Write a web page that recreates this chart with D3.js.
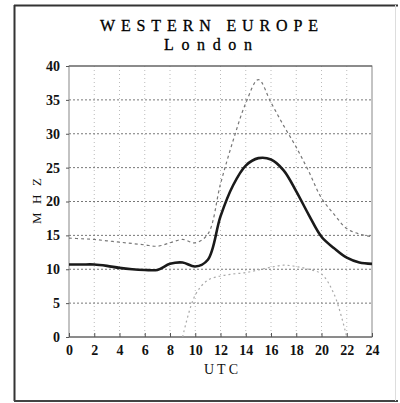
<!DOCTYPE html>
<html><head><meta charset="utf-8">
<script src="https://cdn.jsdelivr.net/npm/d3@7"></script>
<style>body{margin:0;background:#fff}svg{display:block}</style>
</head><body>
<script>
const titleText = "WESTERN EUROPE";
const subtitleText = "London";
const xLabel = "UTC";
const yLabel = "MHZ";
const hours = [0,1,2,3,4,5,6,7,8,9,10,11,12,13,14,15,16,17,18,19,20,21,22,23,24];
const mufMedian = [10.7,10.7,10.7,10.5,10.2,10.0,9.9,9.9,10.8,11.0,10.4,11.4,17.8,22.4,25.3,26.4,26.2,24.6,21.5,18.0,14.8,13.1,11.7,11.0,10.8];
const mufUpper = [14.6,14.5,14.4,14.2,14.0,13.8,13.6,13.4,13.9,14.4,13.9,15.2,22.6,29.0,34.5,38.0,34.6,31.2,28.0,24.4,20.5,18.1,16.0,15.2,14.8];
const mufLower = [null,null,null,null,null,null,null,null,null,0,6.2,8.4,9.0,9.3,9.5,9.9,10.3,10.6,10.4,10.0,9.3,6.3,0,null,null];
const xTicks = [0,2,4,6,8,10,12,14,16,18,20,22,24];
const yTicks = [0,5,10,15,20,25,30,35,40];

const W = 400, H = 403;
const svg = d3.select("body").append("svg").attr("width", W).attr("height", H);
const x = d3.scaleLinear().domain([0,24]).range([69,372]);
const y = d3.scaleLinear().domain([0,40]).range([337,66]);

// outer frame
svg.append("line").attr("x1",14.5).attr("x2",14.5).attr("y1",5).attr("y2",401).attr("stroke","#333").attr("stroke-width",2);
svg.append("line").attr("x1",14).attr("x2",398).attr("y1",5.5).attr("y2",5.5).attr("stroke","#333").attr("stroke-width",2);
svg.append("line").attr("x1",14).attr("x2",398).attr("y1",401).attr("y2",401).attr("stroke","#444").attr("stroke-width",2);
svg.append("line").attr("x1",395.5).attr("x2",395.5).attr("y1",5).attr("y2",401).attr("stroke","#ddd").attr("stroke-width",1);

// grid
svg.append("g").selectAll("line").data(xTicks.slice(1,-1)).join("line")
  .attr("x1",d=>x(d)).attr("x2",d=>x(d)).attr("y1",y(40)).attr("y2",y(0))
  .attr("stroke","#bbb").attr("stroke-width",1).attr("stroke-dasharray","1,3");
svg.append("g").selectAll("line").data(yTicks.slice(1,-1)).join("line")
  .attr("x1",x(0)).attr("x2",x(24)).attr("y1",d=>y(d)).attr("y2",d=>y(d))
  .attr("stroke","#777").attr("stroke-width",1).attr("stroke-dasharray","2,2");

// plot box
svg.append("rect").attr("x",x(0)).attr("y",y(40)).attr("width",x(24)-x(0)).attr("height",y(0)-y(40))
  .attr("fill","none").attr("stroke","#888").attr("stroke-width",1);
svg.append("line").attr("x1",x(0)).attr("x2",x(24)).attr("y1",y(40)).attr("y2",y(40)).attr("stroke","#555").attr("stroke-width",1.2);
svg.append("line").attr("x1",x(0)).attr("x2",x(24)).attr("y1",y(0)).attr("y2",y(0)).attr("stroke","#555").attr("stroke-width",1.2);

// axes
const xAxis = d3.axisBottom(x).tickValues(xTicks).tickSize(4).tickPadding(4);
const gx = svg.append("g").attr("transform",`translate(0,${y(0)})`).call(xAxis);
gx.select(".domain").remove();
gx.selectAll(".tick line").attr("stroke","#555").attr("transform","translate(0,-4)");
gx.selectAll("text").attr("font-family","Liberation Serif").attr("font-weight","bold").attr("font-size",14).attr("fill","#111");

const yAxis = d3.axisLeft(y).tickValues(yTicks).tickSize(3).tickPadding(6);
const gy = svg.append("g").attr("transform",`translate(${x(0)},0)`).call(yAxis);
gy.select(".domain").remove();
gy.selectAll(".tick line").attr("stroke","#555");
gy.selectAll("text").attr("font-family","Liberation Serif").attr("font-weight","bold").attr("font-size",14).attr("fill","#111");

// lines
const mk = arr => d3.line().defined((d,i)=>arr[i]!=null).x(d=>x(d)).y((d,i)=>y(arr[i])).curve(d3.curveCatmullRom.alpha(0.5));
svg.append("path").attr("d",mk(mufLower)(hours)).attr("fill","none").attr("stroke","#aaa").attr("stroke-width",1.2).attr("stroke-dasharray","2,3");
svg.append("path").attr("d",mk(mufUpper)(hours)).attr("fill","none").attr("stroke","#777").attr("stroke-width",1.2).attr("stroke-dasharray","3,3");
svg.append("path").attr("d",mk(mufMedian)(hours)).attr("fill","none").attr("stroke","#1a1a1a").attr("stroke-width",2.6);

// titles
svg.append("text").attr("x",209).attr("y",31).attr("text-anchor","middle")
  .attr("font-family","Liberation Serif").attr("font-size",16).attr("fill","#000").attr("stroke","#000").attr("stroke-width",0.3)
  .attr("textLength",218).attr("lengthAdjust","spacing").text(titleText);
svg.append("text").attr("x",208).attr("y",50).attr("text-anchor","middle")
  .attr("font-family","Liberation Serif").attr("font-size",16).attr("fill","#000").attr("stroke","#000").attr("stroke-width",0.3)
  .attr("textLength",88).attr("lengthAdjust","spacing").text(subtitleText);
svg.append("text").attr("x",221).attr("y",374).attr("text-anchor","middle")
  .attr("font-family","Liberation Serif").attr("font-size",14).attr("fill","#111")
  .attr("textLength",34).attr("lengthAdjust","spacing").text(xLabel);
svg.append("text").attr("transform","translate(41,201) rotate(-90)").attr("text-anchor","middle")
  .attr("font-family","Liberation Serif").attr("font-size",13).attr("fill","#111")
  .attr("textLength",46).attr("lengthAdjust","spacing").text(yLabel);
</script>
</body></html>
